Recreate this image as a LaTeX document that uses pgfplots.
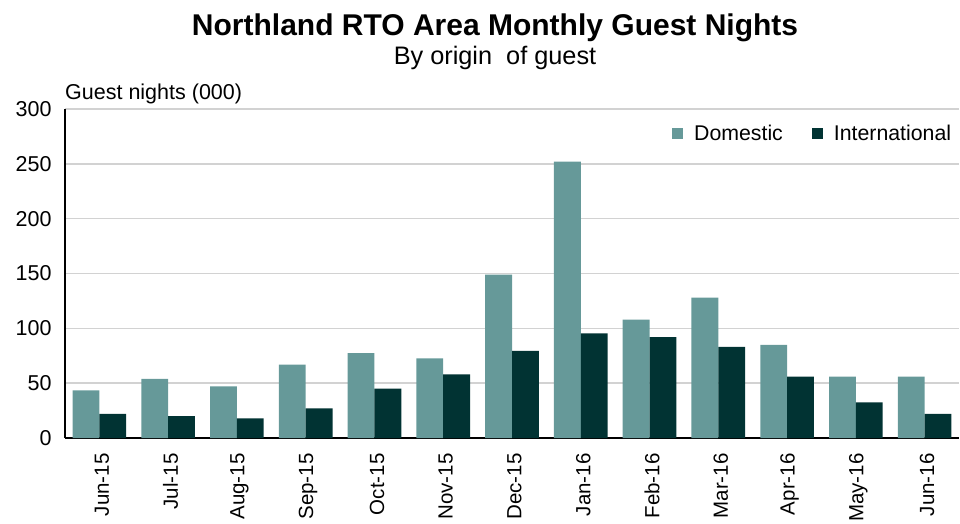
\documentclass[border=0pt]{standalone}
\usepackage{fontspec}
\setmainfont{Liberation Sans}
\usepackage{pgfplots}
\pgfplotsset{compat=1.18}
\definecolor{dom}{RGB}{102,153,153}
\definecolor{intl}{RGB}{1,51,51}
\definecolor{gridc}{RGB}{210,210,210}

\pgfplotstableread{
x  dom  intl
0  43.5 22
1  54   20
2  47   18
3  67   27
4  77.5 45
5  72.5 58
6  149  79.5
7  252  95.5
8  108  92
9  128  83
10 85   56
11 56   32.5
12 56   22
}\guestdata

\begin{document}
\begin{tikzpicture}
\path[use as bounding box] (-65pt,-85pt) rectangle (895pt,438pt);
\begin{axis}[
  scale only axis,
  width=894pt, height=329pt,
  clip=false,
  ybar=0pt, bar width=0.39,
  xmin=-0.5, xmax=12.5,
  ymin=0, ymax=300,
  ytick={0,50,...,300},
  xtick=data,
  xticklabels={Jun-15,Jul-15,Aug-15,Sep-15,Oct-15,Nov-15,Dec-15,Jan-16,Feb-16,Mar-16,Apr-16,May-16,Jun-16},
  axis x line*=bottom, axis y line*=left,
  axis line style={-, line width=1.5pt, black},
  major tick length=0pt,
  ymajorgrids, grid style={gridc, line width=1.5pt},
  /pgf/number format/assume math mode=true,
  yticklabel style={font=\fontsize{21.5}{25}\selectfont},
  yticklabel shift=10pt,
  xticklabel style={font=\fontsize{20.5}{25}\selectfont, rotate=90, anchor=east, yshift=-2.5pt},
  xticklabel shift=12pt,
  legend columns=2,
  legend style={at={(0.997,0.965)}, anchor=north east, draw=none, fill=none,
    font=\fontsize{21.3}{25}\selectfont,
    /tikz/every even column/.append style={column sep=27pt},
    /tikz/every odd column/.append style={column sep=9pt}},
  legend image code/.code={\fill[#1] (0pt,-5.5pt) rectangle (11pt,5.5pt);},
]
\addplot[fill=dom, draw=none] table[x=x, y=dom] {\guestdata};
\addlegendentry{Domestic}
\addplot[fill=intl, draw=none] table[x=x, y=intl] {\guestdata};
\addlegendentry{International}
\node[anchor=base] at (rel axis cs:0.481,1) [yshift=74pt] {\fontsize{30}{35}\selectfont\bfseries Northland RTO Area Monthly Guest Nights};
\node[anchor=base] at (rel axis cs:0.481,1) [yshift=45pt] {\fontsize{25.3}{30}\selectfont By origin\ \ of guest};
\node[anchor=base west, inner sep=0pt] at (rel axis cs:0,1) [yshift=10pt] {\fontsize{21.5}{25}\selectfont Guest nights (000)};
\end{axis}
\end{tikzpicture}
\end{document}
